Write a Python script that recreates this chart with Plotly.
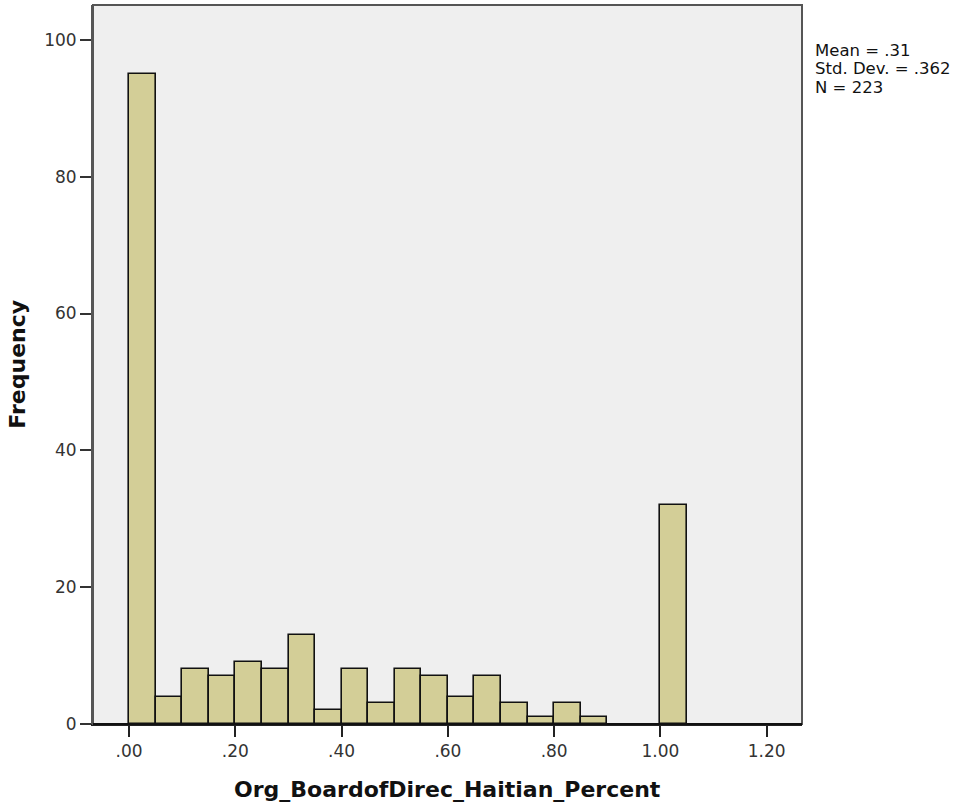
import plotly.graph_objects as go

# Histogram of the board-of-directors share, binned in steps of .05
bin_starts = [0.00, 0.05, 0.10, 0.15, 0.20, 0.25, 0.30, 0.35, 0.40, 0.45,
              0.50, 0.55, 0.60, 0.65, 0.70, 0.75, 0.80, 0.85, 0.90, 0.95, 1.00]
frequencies = [95, 4, 8, 7, 9, 8, 13, 2, 8, 3,
               8, 7, 4, 7, 3, 1, 3, 1, 0, 0, 32]
bin_width = 0.05

x_tick_values = [0.0, 0.2, 0.4, 0.6, 0.8, 1.0, 1.2]
x_tick_labels = [".00", ".20", ".40", ".60", ".80", "1.00", "1.20"]
y_tick_values = [0, 20, 40, 60, 80, 100]

stats_lines = ["Mean = .31", "Std. Dev. = .362", "N = 223"]
x_title = "Org_BoardofDirec_Haitian_Percent"
y_title = "Frequency"

FONT = "DejaVu Sans"
PLOT_TOP, PLOT_BOTTOM = 5, 724          # plot area, in pixels from the top
PLOT_H = PLOT_BOTTOM - PLOT_TOP


def paper_y(px):
    return 1 - (px - PLOT_TOP) / PLOT_H


fig = go.Figure()
fig.add_trace(go.Bar(
    x=[s + bin_width / 2 for s in bin_starts],
    y=frequencies,
    width=bin_width,
    marker=dict(color="rgb(211,206,151)",
                line=dict(color="#111111",
                          width=[1.6 if f > 0 else 0 for f in frequencies])),
    hoverinfo="x+y",
))

annotations = []
for i, line in enumerate(stats_lines):
    annotations.append(dict(
        text=line, xref="paper", yref="paper",
        x=1.0155, y=paper_y(50.5 + 18.5 * i), xanchor="left", yanchor="middle",
        align="left", showarrow=False,
        font=dict(family=FONT, size=16.5, color="#111111")))
annotations += [
    dict(text=f"<b>{x_title}</b>", xref="paper", yref="paper",
         x=0.5, y=paper_y(789), xanchor="center", yanchor="middle",
         showarrow=False,
         font=dict(family=FONT, size=22, color="#111111")),
    dict(text=f"<b>{y_title}</b>", xref="paper", yref="paper",
         x=-0.107, y=0.5, xanchor="center", yanchor="middle",
         textangle=-90, showarrow=False,
         font=dict(family=FONT, size=22, color="#111111")),
]

fig.update_layout(
    width=967, height=806,
    margin=dict(l=93, r=165, t=PLOT_TOP, b=806 - PLOT_BOTTOM),
    paper_bgcolor="white",
    plot_bgcolor="#EFEFEF",
    showlegend=False,
    bargap=0,
    font=dict(family=FONT, size=17, color="#333333"),
    xaxis=dict(
        range=[-0.068, 1.2665],
        tickvals=x_tick_values, ticktext=x_tick_labels,
        ticks="outside", ticklen=11, tickwidth=2, tickcolor="#222222",
        showgrid=False, zeroline=False,
        showline=True, linecolor="#222222", linewidth=2,
        tickfont=dict(family=FONT, size=17, color="#333333"),
    ),
    yaxis=dict(
        range=[0, 105.1],
        tickvals=y_tick_values,
        ticks="outside", ticklen=11, tickwidth=2, tickcolor="#333333",
        showgrid=False, zeroline=False,
        showline=True, linecolor="#555555", linewidth=2,
        tickfont=dict(family=FONT, size=17, color="#333333"),
    ),
    shapes=[dict(type="rect", xref="paper", yref="paper",
                 x0=0, x1=1, y0=0, y1=1,
                 line=dict(color="#555555", width=2), layer="above")],
    annotations=annotations,
)

# redraw the bottom axis line in black over the frame
fig.add_shape(type="line", xref="paper", yref="paper", x0=0, x1=1, y0=0, y1=0,
              line=dict(color="#111111", width=2), layer="above")

fig.write_html("out.html")
